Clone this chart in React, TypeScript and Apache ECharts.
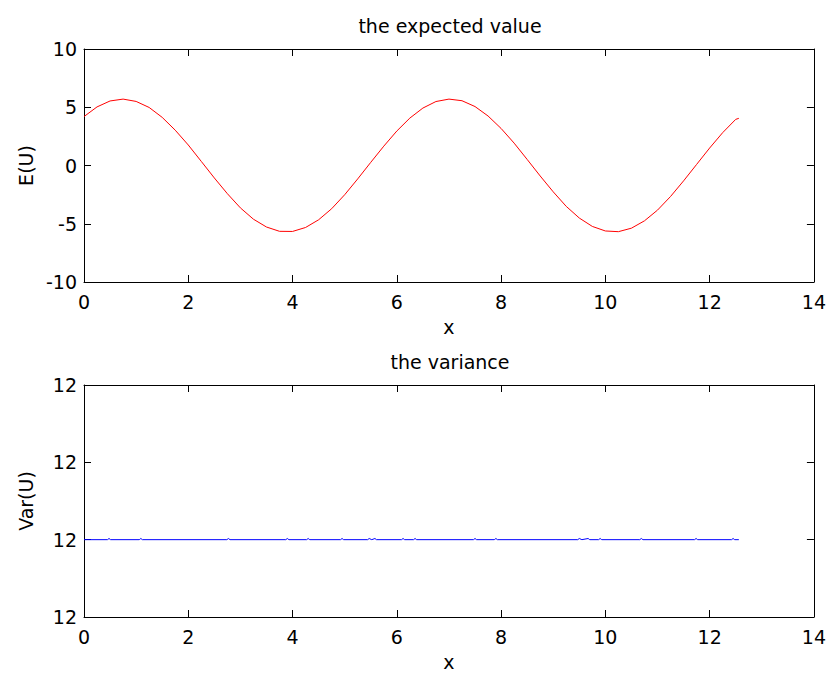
import React, { useEffect, useRef } from "react";
import * as echarts from "echarts";

// Top subplot: the expected value E(U)
const expX = [0, 0.25, 0.5, 0.75, 1.0, 1.25, 1.5, 1.75, 2.0, 2.25, 2.5, 2.75, 3.0, 3.25, 3.5, 3.75, 4.0, 4.25, 4.5, 4.75, 5.0, 5.25, 5.5, 5.75, 6.0, 6.25, 6.5, 6.75, 7.0, 7.25, 7.5, 7.75, 8.0, 8.25, 8.5, 8.75, 9.0, 9.25, 9.5, 9.75, 10.0, 10.25, 10.5, 10.75, 11.0, 11.25, 11.5, 11.75, 12.0, 12.25, 12.5, 12.56];
const expY = [4.2, 5.03, 5.54, 5.7, 5.5, 4.98, 4.13, 3.03, 1.76, 0.35, -1.07, -2.42, -3.64, -4.61, -5.28, -5.65, -5.66, -5.32, -4.66, -3.71, -2.51, -1.15, 0.27, 1.66, 2.96, 4.07, 4.93, 5.49, 5.7, 5.56, 5.06, 4.25, 3.18, 1.92, 0.52, -0.9, -2.26, -3.51, -4.51, -5.23, -5.62, -5.68, -5.38, -4.75, -3.83, -2.66, -1.32, 0.09, 1.5, 2.82, 3.96, 4.05];

// Bottom subplot: the variance Var(U) (constant 12 with tiny bumps)
const varX = [0, 0.45, 0.48, 0.51, 1.06, 1.09, 1.12, 2.74, 2.77, 2.8, 3.87, 3.9, 3.93, 4.27, 4.3, 4.33, 4.92, 4.95, 4.98, 5.44, 5.47, 5.52, 5.58, 5.61, 6.09, 6.12, 6.15, 6.32, 6.35, 6.38, 7.47, 7.5, 7.53, 7.87, 7.9, 7.93, 9.47, 9.5, 9.55, 9.67, 9.7, 9.87, 9.9, 9.93, 10.66, 10.69, 10.72, 11.71, 11.74, 11.77, 12.42, 12.45, 12.48, 12.56];
const varY = [12, 12, 12.00000015, 12, 12, 12.00000015, 12, 12, 12.00000015, 12, 12, 12.00000015, 12, 12, 12.00000015, 12, 12, 12.00000015, 12, 12, 12.00000015, 12, 12.00000015, 12, 12, 12.00000015, 12, 12, 12.00000015, 12, 12, 12.00000015, 12, 12, 12.00000015, 12, 12, 12.00000015, 12, 12.00000015, 12, 12, 12.00000015, 12, 12, 12.00000015, 12, 12, 12.00000015, 12, 12, 12.00000015, 12, 12];

const xTicks = [0, 2, 4, 6, 8, 10, 12, 14];
const expTicks = [-10, -5, 0, 5, 10];
const varTicks = [11.99999, 12, 12.00001, 12.00002];

const titles = ["the expected value", "the variance"];
const yNames = ["E(U)", "Var(U)"];
const xName = "x";

const FONT = "'DejaVu Sans', 'Liberation Sans', Arial, sans-serif";
const FS = 19;

export default function App() {
  const ref = useRef<HTMLDivElement>(null);
  useEffect(() => {
    if (!ref.current) return;
    const chart = echarts.init(ref.current, undefined, { renderer: "svg" });
    const axLine = { show: true, lineStyle: { color: "#000", width: 1 } };
    const tick = { show: true, inside: true, length: 7, lineStyle: { color: "#000", width: 1 } };
    const lbl = { color: "#000", fontSize: FS, fontFamily: FONT };
    const nameStyle = { color: "#000", fontSize: FS, fontFamily: FONT };
    const xBase = (grid: number, pos: "bottom" | "top", withLabel: boolean) => ({
      type: "value",
      gridIndex: grid,
      position: pos,
      min: xTicks[0],
      max: xTicks[xTicks.length - 1],
      interval: xTicks[1] - xTicks[0],
      axisLine: { ...axLine, onZero: false },
      axisTick: tick,
      axisLabel: withLabel ? { ...lbl, margin: 10 } : { show: false },
      splitLine: { show: false },
      name: withLabel ? xName : "",
      nameLocation: "middle",
      nameGap: 35,
      nameTextStyle: nameStyle,
    });
    const titleStyle = { color: "#000", fontSize: FS, fontWeight: "normal", fontFamily: FONT };
    const option: any = {
      animation: false,
      backgroundColor: "#fff",
      title: [
        { text: titles[0], top: 11, left: 445, textAlign: "center", textStyle: titleStyle },
        { text: titles[1], top: 347, left: 445, textAlign: "center", textStyle: titleStyle },
      ],
      grid: [
        { left: 84, right: 13, top: 49, height: 233, containLabel: false },
        { left: 84, right: 13, top: 385, height: 232, containLabel: false },
      ],
      xAxis: [xBase(0, "bottom", true), xBase(0, "top", false), xBase(1, "bottom", true), xBase(1, "top", false)],
      yAxis: [
        {
          type: "value", gridIndex: 0, position: "left", min: expTicks[0], max: expTicks[expTicks.length - 1], interval: 5,
          axisLine: { ...axLine, onZero: false }, axisTick: tick, axisLabel: { ...lbl, margin: 7 },
          splitLine: { show: false }, name: yNames[0], nameLocation: "middle", nameGap: 49,
          nameTextStyle: nameStyle,
        },
        {
          type: "value", gridIndex: 0, position: "right", min: expTicks[0], max: expTicks[expTicks.length - 1], interval: 5,
          axisLine: { ...axLine, onZero: false }, axisTick: tick, axisLabel: { show: false }, splitLine: { show: false },
        },
        {
          type: "value", gridIndex: 1, position: "left", min: varTicks[0], max: varTicks[3],
          axisLine: { ...axLine, onZero: false },
          axisTick: { ...tick, customValues: varTicks },
          axisLabel: { ...lbl, margin: 7, customValues: varTicks, formatter: (v: number) => String(Math.round(v)) },
          splitLine: { show: false }, name: yNames[1], nameLocation: "middle", nameGap: 49,
          nameTextStyle: nameStyle,
        },
        {
          type: "value", gridIndex: 1, position: "right", min: varTicks[0], max: varTicks[3],
          axisLine: { ...axLine, onZero: false }, axisTick: { ...tick, customValues: varTicks },
          axisLabel: { show: false, customValues: varTicks }, splitLine: { show: false },
        },
      ],
      series: [
        {
          type: "line", xAxisIndex: 0, yAxisIndex: 0, showSymbol: false, smooth: false,
          data: expX.map((x, i) => [x, expY[i]]),
          lineStyle: { color: "#ff0000", width: 1 }, itemStyle: { color: "#ff0000" },
        },
        {
          type: "line", xAxisIndex: 2, yAxisIndex: 2, showSymbol: false,
          data: varX.map((x, i) => [x, varY[i]]),
          lineStyle: { color: "#0000ff", width: 1 }, itemStyle: { color: "#0000ff" },
        },
      ],
    };
    chart.setOption(option);
    return () => chart.dispose();
  }, []);
  return <div ref={ref} style={{ position: "fixed", left: 0, top: 0, width: 829, height: 673 }} />;
}
